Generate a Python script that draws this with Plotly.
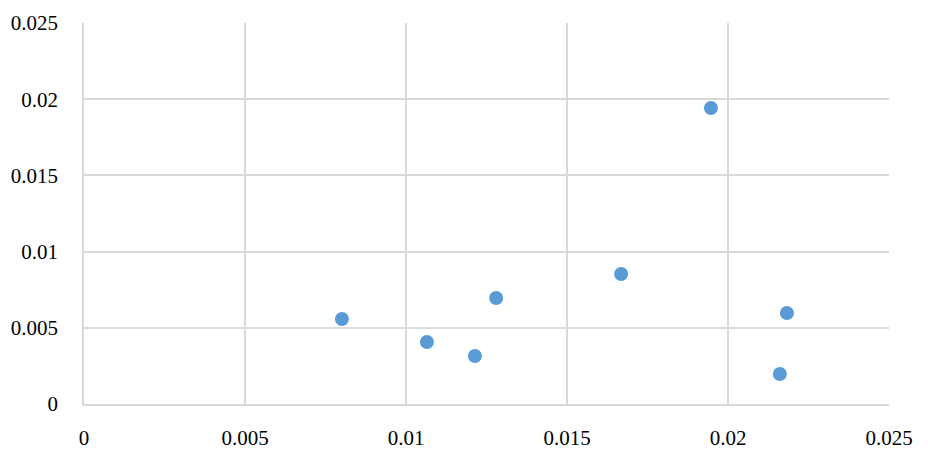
import plotly.graph_objects as go

x_vals = [0.00801, 0.01065, 0.01214, 0.0128, 0.01668, 0.01947, 0.02183, 0.02161]
y_vals = [0.00558, 0.00407, 0.00315, 0.00696, 0.00853, 0.01942, 0.00597, 0.00197]
tick_vals = [0, 0.005, 0.01, 0.015, 0.02, 0.025]
tick_text = ["0", "0.005", "0.01", "0.015", "0.02", "0.025"]

fig = go.Figure()
fig.add_trace(go.Scatter(
    x=x_vals, y=y_vals, mode="markers",
    marker=dict(size=14, color="#5B9BD5", line=dict(width=0)),
    showlegend=False, hoverinfo="x+y",
))

font = dict(family="Liberation Serif, Times New Roman, serif", size=21, color="#000000")
fig.update_layout(
    width=920, height=462,
    margin=dict(l=76, r=39, t=15, b=66),
    paper_bgcolor="white", plot_bgcolor="white",
    font=font,
)
fig.update_xaxes(
    range=[0, 0.025], tickvals=tick_vals, ticktext=tick_text,
    showgrid=True, gridcolor="#D9D9D9", gridwidth=1.5,
    zeroline=False, showline=True, linecolor="#D9D9D9", linewidth=1.5,
    ticks="", ticklabelstandoff=14, automargin=False,
)
fig.update_yaxes(
    range=[0, 0.025], tickvals=tick_vals, ticktext=tick_text,
    showgrid=True, gridcolor="#D9D9D9", gridwidth=1.5,
    zeroline=False, showline=True, linecolor="#D9D9D9", linewidth=1.5,
    ticks="", ticklabelstandoff=20, automargin=False,
)
fig.write_html("out.html")
